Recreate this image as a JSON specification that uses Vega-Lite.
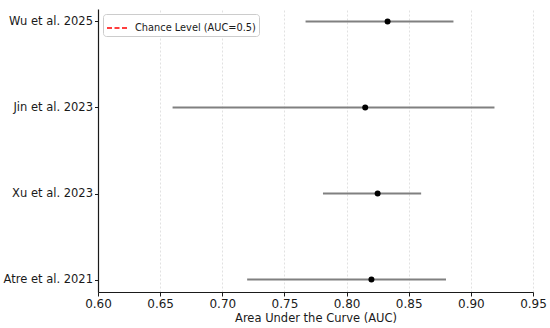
{
  "$schema": "https://vega.github.io/schema/vega-lite/v6.json",
  "autosize": "none",
  "width": 435,
  "height": 283,
  "padding": {"left": 98, "top": 9, "right": 17, "bottom": 36},
  "background": "white",
  "config": {
    "font": "DejaVu Sans",
    "view": {"stroke": null},
    "axis": {
      "labelFont": "DejaVu Sans",
      "titleFont": "DejaVu Sans",
      "labelFontSize": 12,
      "titleFontSize": 11.5,
      "titleFontWeight": "normal",
      "labelColor": "#1a1a1a",
      "titleColor": "#1a1a1a",
      "domainColor": "#1a1a1a",
      "domainWidth": 1.2,
      "tickColor": "#1a1a1a",
      "tickSize": 4,
      "tickWidth": 1,
      "gridColor": "#d9d9d9",
      "gridDash": [2, 2],
      "gridWidth": 0.8
    }
  },
  "layer": [
    {
      "data": {"values": [{"label": "Chance Level (AUC=0.5)", "auc": 0.5}]},
      "mark": {"type": "rule", "clip": true, "strokeDash": [5, 2.5], "strokeWidth": 1.5},
      "encoding": {
        "x": {"field": "auc", "type": "quantitative"},
        "color": {
          "field": "label",
          "type": "nominal",
          "scale": {"range": ["#ff0000"]},
          "legend": {
            "title": null,
            "orient": "top-left",
            "offset": 5,
            "padding": 3,
            "strokeColor": "#cccccc",
            "fillColor": "white",
            "cornerRadius": 3,
            "labelFont": "DejaVu Sans",
            "labelFontSize": 9.8,
            "labelColor": "#1a1a1a",
            "labelOffset": 7,
            "symbolType": "M-1,0H1",
            "symbolDash": [5, 2.5],
            "symbolStrokeWidth": 1.5,
            "symbolSize": 400
          }
        }
      }
    },
    {
      "data": {"name": "studies", "values": [
        {"study": "Wu et al. 2025", "auc": 0.833, "lower": 0.767, "upper": 0.886},
        {"study": "Jin et al. 2023", "auc": 0.815, "lower": 0.66, "upper": 0.919},
        {"study": "Xu et al. 2023", "auc": 0.825, "lower": 0.781, "upper": 0.86},
        {"study": "Atre et al. 2021", "auc": 0.82, "lower": 0.72, "upper": 0.88}
      ]},
      "layer": [
        {
          "mark": {"type": "rule", "color": "#808080", "strokeWidth": 2},
          "encoding": {
            "y": {"field": "study", "type": "nominal"},
            "x": {"field": "lower", "type": "quantitative"},
            "x2": {"field": "upper"}
          }
        },
        {
          "mark": {"type": "point", "filled": true, "color": "black", "opacity": 1, "size": 36},
          "encoding": {
            "y": {"field": "study", "type": "nominal"},
            "x": {"field": "auc", "type": "quantitative"}
          }
        }
      ]
    }
  ],
  "encoding": {
    "x": {
      "type": "quantitative",
      "scale": {"domain": [0.6, 0.95], "nice": false, "zero": false, "padding": 0},
      "axis": {
        "title": "Area Under the Curve (AUC)",
        "values": [0.6, 0.65, 0.7, 0.75, 0.8, 0.85, 0.9, 0.95],
        "format": ".2f",
        "labelFlush": false,
        "labelPadding": 2,
        "titlePadding": 3
      }
    },
    "y": {
      "type": "nominal",
      "scale": {"type": "point", "padding": 0.145, "domain": ["Wu et al. 2025", "Jin et al. 2023", "Xu et al. 2023", "Atre et al. 2021"]},
      "axis": {"title": null, "labelPadding": 2, "labelFontSize": 11.5, "tickSize": 3.5}
    }
  }
}
